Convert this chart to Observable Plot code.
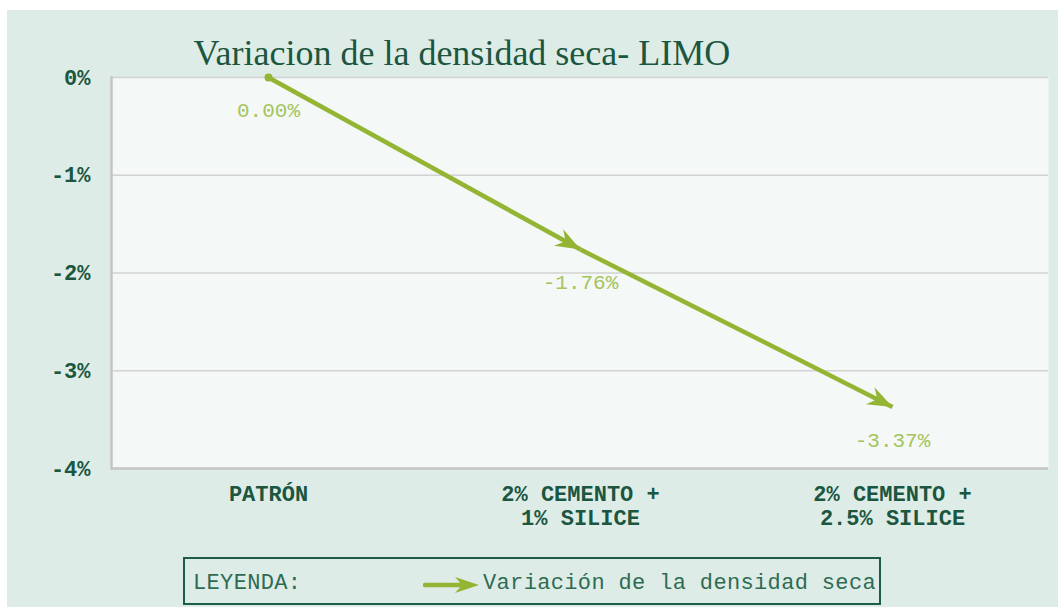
<!DOCTYPE html>
<html>
<head>
<meta charset="utf-8">
<script src="https://cdn.jsdelivr.net/npm/d3@7"></script>
<script src="https://cdn.jsdelivr.net/npm/@observablehq/plot@0.6"></script>
<style>
  html, body { margin: 0; padding: 0; background: #ffffff; }
  #wrap { position: absolute; left: 7px; top: 10px; width: 1051px; height: 597px; background: #deece7; overflow: hidden; }
  #chart { position: absolute; left: 0; top: 0; }
  #legend { position: absolute; left: 176px; top: 547px; width: 698px; height: 48px; box-sizing: border-box;
            border: 2px solid #1d5c45; font-family: "Liberation Mono", monospace; font-size: 22px; color: #2e6b52; letter-spacing: 0.35px; }
  #legend .lab { position: absolute; left: 8px; top: 12px; }
  #legend svg { position: absolute; left: 238px; top: 14px; }
  #legend .ser { position: absolute; left: 298px; top: 12px; }
</style>
</head>
<body>
<div id="wrap">
  <div id="chart"></div>
  <div id="legend">
    <span class="lab">LEYENDA:</span>
    <svg width="60" height="24"><line x1="2" y1="12" x2="44" y2="12" stroke="#93b533" stroke-width="4.5" stroke-linecap="round"/><path d="M56,12 L32,4 L39,12 L32,20 Z" fill="#93b533"/></svg>
    <span class="ser">Variación de la densidad seca</span>
  </div>
</div>
<script>
const title = "Variacion de la densidad seca- LIMO";
const seriesName = "Variación de la densidad seca";
const categories = ["PATRÓN", "2% CEMENTO +\n1% SILICE", "2% CEMENTO +\n2.5% SILICE"];
const values = [0.00, -1.76, -3.37];
const yTicks = [0, -1, -2, -3, -4];

const lineColor = "#93b533";
const labelColor = "#a6c45c";
const darkGreen = "#1b5640";

const points = categories.map((c, i) => ({cat: c, v: values[i]}));
const segments = points.slice(1).map((p, i) => ({c1: points[i].cat, v1: points[i].v, c2: p.cat, v2: p.v}));

const svg = Plot.plot({
  width: 1051,
  height: 597,
  marginLeft: 104,
  marginRight: 10,
  marginTop: 67,
  marginBottom: 139,
  style: {background: "transparent", overflow: "visible"},
  x: {type: "point", domain: categories, padding: 0.5},
  y: {domain: [-4, 0]},
  marks: [
    Plot.frame({fill: "#f4f8f6", stroke: "none"}),
    Plot.gridY([0, -1, -2, -3], {stroke: "#d2d2d2", strokeOpacity: 1, strokeWidth: 1.5}),
    Plot.ruleY([-4], {stroke: "#c4c4c4", strokeWidth: 2.5}),
    Plot.frame({anchor: "left", stroke: "#c4c4c4", strokeWidth: 2.5}),
    Plot.axisY({ticks: yTicks, tickFormat: d => `${d}%`, tickSize: 0, tickPadding: 21,
      fontSize: 22, fontWeight: "bold", fontFamily: "Liberation Mono, monospace", fill: darkGreen, label: null}),
    Plot.axisX({tickSize: 0, tickPadding: 15, fontSize: 22, fontWeight: "bold", lineHeight: 1.1,
      fontFamily: "Liberation Mono, monospace", fill: darkGreen, label: null}),
    Plot.link(segments, {x1: "c1", y1: "v1", x2: "c2", y2: "v2", stroke: lineColor, strokeWidth: 4.5}),
    Plot.dot(points.slice(0, 1), {x: "cat", y: "v", r: 4, fill: lineColor}),
    Plot.text(points, {x: "cat", y: "v", text: d => `${d.v.toFixed(2)}%`, dy: 33,
      fontSize: 21, fontFamily: "Liberation Mono, monospace", fill: labelColor}),
    Plot.text([title], {frameAnchor: "top-left", dx: 82, dy: -13, textAnchor: "start", lineAnchor: "bottom",
      fontSize: 36, fontFamily: "Liberation Serif, serif", fill: darkGreen})
  ]
});

const s = d3.select(svg);
const m = s.append("defs").append("marker")
  .attr("id", "ah").attr("markerUnits", "userSpaceOnUse")
  .attr("viewBox", "-28 -12 30 24").attr("markerWidth", 30).attr("markerHeight", 24)
  .attr("refX", 0).attr("refY", 0).attr("orient", "auto");
m.append("path").attr("d", "M0,0 L-25,-9.5 L-17,0 L-25,9.5 Z").attr("fill", lineColor);
s.selectAll("g[aria-label=link] path").attr("marker-end", "url(#ah)");

document.getElementById("chart").appendChild(svg);
</script>
</body>
</html>
